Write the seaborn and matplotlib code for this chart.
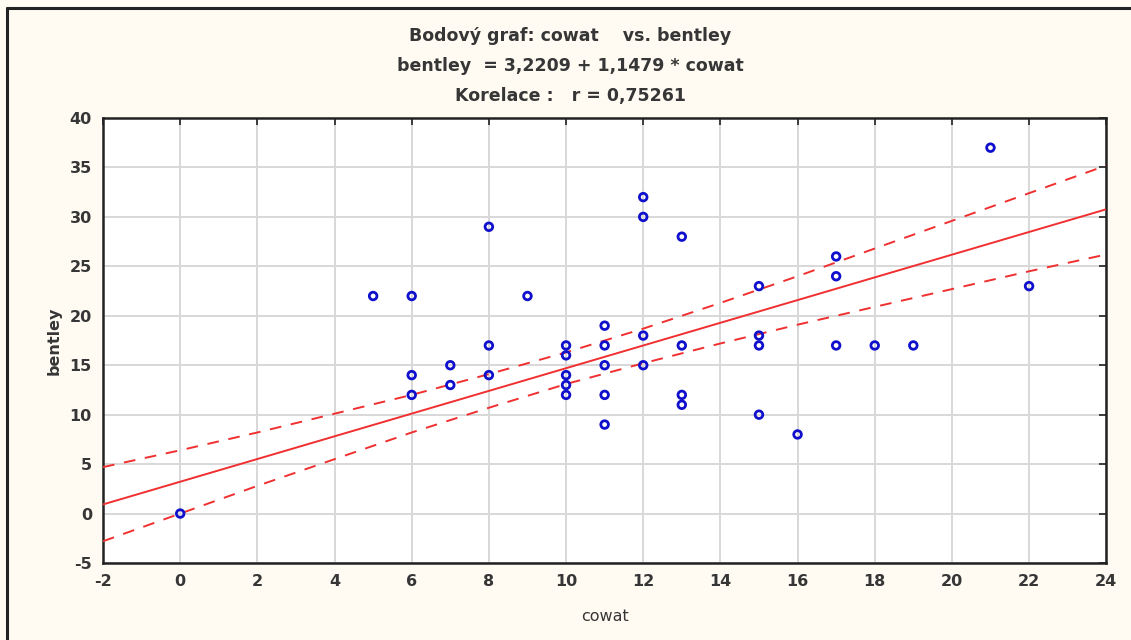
import matplotlib as mpl
mpl.use('Agg')
import matplotlib.pyplot as plt
import numpy as np
import pandas as pd
import seaborn as sns

# data
cowat = [0, 5, 6, 6, 6, 7, 7, 8, 8, 8, 9,
         10, 10, 10, 10, 10, 11, 11, 11, 11, 11,
         12, 12, 12, 12, 13, 13, 13, 13,
         15, 15, 15, 15, 16, 17, 17, 17, 18, 19, 21, 22]
bentley = [0, 22, 22, 14, 12, 15, 13, 29, 17, 14, 22,
           17, 16, 14, 13, 12, 19, 17, 15, 12, 9,
           32, 30, 18, 15, 28, 17, 12, 11,
           23, 18, 17, 10, 8, 26, 24, 17, 17, 17, 37, 23]

# regression from the title, 95% band
intercept = 3.2209
slope = 1.1479
band_x = [-2, 0, 2, 4, 6, 8, 10, 12, 14, 16, 18, 20, 22, 24]
band_hi = [4.7, 6.4, 8.2, 10.1, 12.0, 14.1, 16.3, 18.7, 21.3, 24.0, 26.8, 29.6, 32.4, 35.2]
band_lo = [-2.8, 0.0, 2.8, 5.5, 8.2, 10.7, 13.1, 15.2, 17.2, 19.1, 20.9, 22.7, 24.5, 26.2]

x_ticks = list(range(-2, 25, 2))
y_ticks = list(range(-5, 41, 5))
title_lines = ["Bodový graf: cowat    vs. bentley",
               "bentley  = 3,2209 + 1,1479 * cowat",
               "Korelace :   r = 0,75261"]

BG = '#fffbf3'
TXT = '#363636'
BLUE = '#1010cc'
RED = '#f03030'

df = pd.DataFrame({'cowat': cowat, 'bentley': bentley})
band = pd.DataFrame({'x': band_x, 'hi': band_hi, 'lo': band_lo})
band['fit'] = intercept + slope * band['x']

sns.set_style('white')
plt.rcParams['axes.unicode_minus'] = False
fig = plt.figure(figsize=(11.31, 6.4), dpi=100, facecolor=BG)
ax = fig.add_axes([0.0911, 0.1203, 0.887, 0.6953])
ax.set_facecolor('white')

ax.grid(True, color='#d8d8d8', lw=1.4)
ax.set_axisbelow(True)

sns.lineplot(data=band, x='x', y='fit', ax=ax, color=RED, lw=1.4, zorder=3)
sns.lineplot(data=band, x='x', y='lo', ax=ax, color=RED, lw=1.4, zorder=3)
sns.lineplot(data=band, x='x', y='hi', ax=ax, color=RED, lw=1.4, zorder=3)
for l in ax.lines[1:]:
    l.set_dashes([6, 5])

sns.scatterplot(data=df, x='cowat', y='bentley', ax=ax, marker='o', s=30,
                facecolor='none', edgecolor=BLUE, linewidth=2.0, zorder=4)

ax.set_xlim(-2, 24)
ax.set_ylim(-5, 40)
ax.set_xticks(x_ticks)
ax.set_yticks(y_ticks)
ax.tick_params(direction='in', length=5, width=1.2, colors='#222222',
               top=True, right=True, labelsize=11.5, pad=8)
for lab in ax.get_xticklabels() + ax.get_yticklabels():
    lab.set_fontweight('bold')
    lab.set_color(TXT)
for sp in ax.spines.values():
    sp.set_color('#222222')
    sp.set_linewidth(1.8)

ax.set_xlabel('cowat', fontsize=11.5, color=TXT, labelpad=14)
ax.set_ylabel('bentley', fontsize=11.5, color=TXT, fontweight='bold', labelpad=6)

for i, t in enumerate(title_lines):
    fig.text(0.504, 1 - (36 + 30 * i) / 640, t, ha='center', va='center',
             fontsize=12.5, color=TXT, fontweight='bold')

# outer frame of the figure window
fig.add_artist(plt.Line2D([7 / 1131, 7 / 1131], [0, 1 - 8 / 640],
                          transform=fig.transFigure, color='#222222', lw=2.2))
fig.add_artist(plt.Line2D([7 / 1131, 1], [1 - 8 / 640, 1 - 8 / 640],
                          transform=fig.transFigure, color='#222222', lw=2.2))

plt.savefig('out.png', dpi=100, facecolor=BG)
